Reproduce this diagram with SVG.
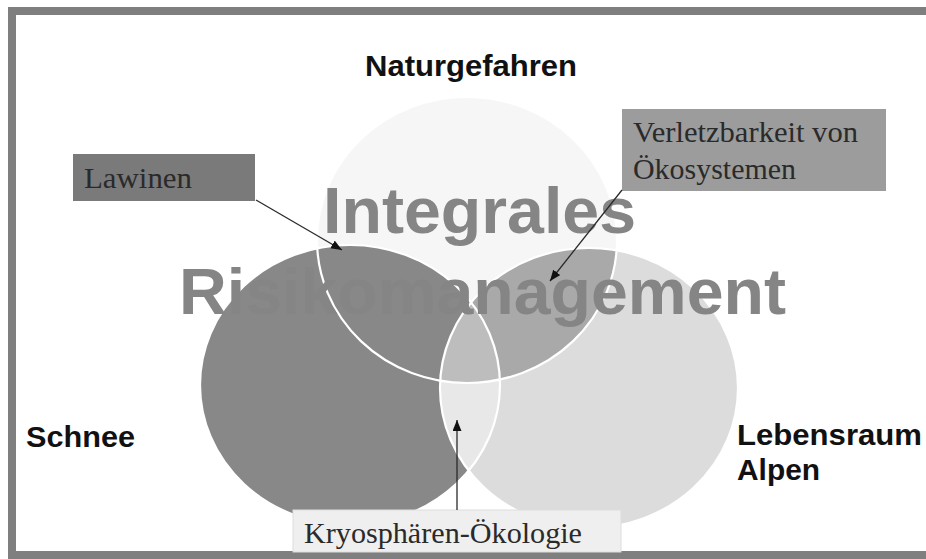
<svg xmlns="http://www.w3.org/2000/svg" width="926" height="559" viewBox="0 0 926 559">
  <style>
    .lbl { font-family: "Liberation Sans", Arial, sans-serif; font-weight: bold; fill: #111; }
    .big { font-family: "Liberation Sans", Arial, sans-serif; font-weight: bold; font-size: 65px; fill: #858585; }
    .ser { font-family: "Liberation Serif", "Times New Roman", serif; font-size: 29px; fill: #2a2a2a; }
    .conn { stroke: #2a2a2a; stroke-width: 1.3; fill: none; marker-end: url(#arr); }
    .edge { fill: none; stroke: #ffffff; stroke-width: 2.2; }
  </style>
  <defs>
    <marker id="arr" markerUnits="userSpaceOnUse" markerWidth="12" markerHeight="10" refX="11" refY="4.5" orient="auto">
      <path d="M0,0 L11,4.5 L0,9 z" fill="#111"/>
    </marker>
    <ellipse id="cTop" cx="467" cy="240" rx="150" ry="143"/>
    <ellipse id="cLeft" cx="350" cy="385" rx="150" ry="140"/>
    <ellipse id="cRight" cx="589" cy="388" rx="149" ry="140"/>
    <clipPath id="clipTop"><use href="#cTop"/></clipPath>
    <clipPath id="clipLeft"><use href="#cLeft"/></clipPath>
    <clipPath id="clipRight"><use href="#cRight"/></clipPath>
  </defs>

  <rect x="0" y="0" width="926" height="559" fill="#ffffff"/>
  <rect id="frame" x="12" y="11" width="940" height="544" fill="none" stroke="#7f7f7f" stroke-width="8"/>

  <g id="venn">
    <g id="naturgefahren-circle"><use href="#cTop" fill="#f6f6f6"/></g>
    <g id="lebensraum-circle"><use href="#cRight" fill="#dcdcdc"/></g>
    <g id="schnee-circle"><use href="#cLeft" fill="#888888"/></g>
    <g id="top-right-overlap" clip-path="url(#clipTop)"><use href="#cRight" fill="#a9a9a9"/></g>
    <g id="left-right-overlap" clip-path="url(#clipLeft)"><use href="#cRight" fill="#e8e8e8"/></g>
    <g id="triple-overlap" clip-path="url(#clipTop)"><g clip-path="url(#clipLeft)"><use href="#cRight" fill="#bdbdbd"/></g></g>
    <g id="outlines">
      <use href="#cTop" class="edge"/>
      <use href="#cLeft" class="edge"/>
      <use href="#cRight" class="edge"/>
    </g>
  </g>

  <g id="title">
    <text class="big" x="323" y="233" textLength="313" lengthAdjust="spacingAndGlyphs">Integrales</text>
    <text class="big" x="179" y="314" textLength="607" lengthAdjust="spacingAndGlyphs">Risikomanagement</text>
  </g>

  <g id="label-naturgefahren"><text class="lbl" x="365" y="76" font-size="30" textLength="212" lengthAdjust="spacingAndGlyphs">Naturgefahren</text></g>
  <g id="label-schnee"><text class="lbl" x="26" y="447" font-size="29" textLength="109" lengthAdjust="spacingAndGlyphs">Schnee</text></g>
  <g id="label-lebensraum">
    <text class="lbl" x="737" y="445" font-size="30" textLength="185" lengthAdjust="spacingAndGlyphs">Lebensraum</text>
    <text class="lbl" x="737" y="480" font-size="30" textLength="83" lengthAdjust="spacingAndGlyphs">Alpen</text>
  </g>

  <g id="box-lawinen">
    <rect x="73" y="154" width="182" height="47" fill="#7a7a7a"/>
    <text class="ser" x="84" y="188" textLength="108" lengthAdjust="spacingAndGlyphs">Lawinen</text>
  </g>
  <g id="box-verletzbarkeit">
    <rect x="622" y="109" width="264" height="82" fill="#9c9c9c"/>
    <text class="ser" x="633" y="142" textLength="225" lengthAdjust="spacingAndGlyphs">Verletzbarkeit von</text>
    <text class="ser" x="633" y="179" textLength="163" lengthAdjust="spacingAndGlyphs">Ökosystemen</text>
  </g>
  <g id="box-kryosphaeren">
    <rect x="293" y="510" width="328" height="42" fill="#efefef" stroke="#dddddd" stroke-width="1"/>
    <text class="ser" x="304" y="543" textLength="278" lengthAdjust="spacingAndGlyphs">Kryosphären-Ökologie</text>
  </g>

  <g id="connectors">
    <line class="conn" x1="256" y1="200" x2="342" y2="250"/>
    <line class="conn" x1="622" y1="190" x2="550" y2="281"/>
    <line class="conn" x1="457" y1="510" x2="457" y2="420"/>
  </g>
</svg>
